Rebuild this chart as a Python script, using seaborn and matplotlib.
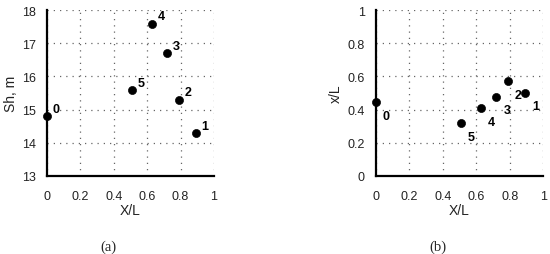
import matplotlib
matplotlib.use("Agg")
import matplotlib.pyplot as plt
import seaborn as sns
import pandas as pd

labels = ["0", "1", "2", "3", "4", "5"]
x_rel = [0.0, 0.89, 0.79, 0.72, 0.63, 0.51]
sh_m = [14.8, 14.3, 15.3, 16.7, 17.6, 15.6]
xl_rel = [0.444, 0.502, 0.571, 0.478, 0.407, 0.317]

x_ticks = [0, 0.2, 0.4, 0.6, 0.8, 1]
x_tick_labels = ["0", "0.2", "0.4", "0.6", "0.8", "1"]
a_ticks = [13, 14, 15, 16, 17, 18]
b_ticks = [0, 0.2, 0.4, 0.6, 0.8, 1]
b_tick_labels = ["0", "0.2", "0.4", "0.6", "0.8", "1"]

sns.set_theme(style="white")
plt.rcParams['font.family'] = ['Liberation Sans', 'DejaVu Sans']

df_a = pd.DataFrame({"X/L": x_rel, "Sh": sh_m, "lab": labels})
df_b = pd.DataFrame({"X/L": x_rel, "xL": xl_rel, "lab": labels})

fig = plt.figure(figsize=(5.5, 2.55), dpi=100)
W, H = 550, 255
axa = fig.add_axes([47 / W, 1 - 176.7 / H, 167 / W, 165.4 / H])
axb = fig.add_axes([375.7 / W, 1 - 176.7 / H, 167.6 / W, 165.4 / H])


def style(ax, yticks, ylabels, ylim, ylabel):
    ax.set_xlim(0, 1)
    ax.set_ylim(*ylim)
    ax.set_xticks(x_ticks)
    ax.set_xticklabels(x_tick_labels, fontsize=9, color="#222222")
    ax.set_yticks(yticks)
    ax.set_yticklabels(ylabels, fontsize=9, color="#222222")
    ax.grid(True, linestyle=(0, (1, 4)), color="#666666", linewidth=0.9)
    for s in ["top", "right"]:
        ax.spines[s].set_visible(False)
    for s in ["left", "bottom"]:
        ax.spines[s].set_color("black")
        ax.spines[s].set_linewidth(1.6)
    ax.tick_params(axis="x", direction="out", length=3, width=1, color="black", pad=7)
    ax.tick_params(axis="y", direction="out", length=3, width=1, color="black", pad=5)
    ax.set_xlabel("X/L", fontsize=10, color="#222222", labelpad=1)
    ax.set_ylabel(ylabel, fontsize=10, color="#222222", labelpad=3)
    for sp in ax.spines.values():
        sp.set_zorder(5)


sns.scatterplot(data=df_a, x="X/L", y="Sh", ax=axa, color="black", s=34,
                edgecolor="black", zorder=6, clip_on=False, legend=False)
style(axa, a_ticks, [str(t) for t in a_ticks], (13, 18), "Sh, m")
for xv, yv, lb in zip(x_rel, sh_m, labels):
    axa.annotate(lb, (xv, yv), xytext=(4, 3), textcoords="offset points",
                 fontsize=9, fontweight="bold", color="black")

sns.scatterplot(data=df_b, x="X/L", y="xL", ax=axb, color="black", s=34,
                edgecolor="black", zorder=6, clip_on=False, legend=False)
style(axb, b_ticks, b_tick_labels, (0, 1), "x/L")
for xv, yv, lb in zip(x_rel, xl_rel, labels):
    axb.annotate(lb, (xv, yv), xytext=(5, -12), textcoords="offset points",
                 fontsize=9, fontweight="bold", color="black")

fig.text(108 / W, 1 - 247 / H, "(a)", ha="center", va="center",
         fontsize=10.5, family=["Liberation Serif", "DejaVu Serif"])
fig.text(438 / W, 1 - 247 / H, "(b)", ha="center", va="center",
         fontsize=10.5, family=["Liberation Serif", "DejaVu Serif"])

fig.savefig("out.png", dpi=100)
